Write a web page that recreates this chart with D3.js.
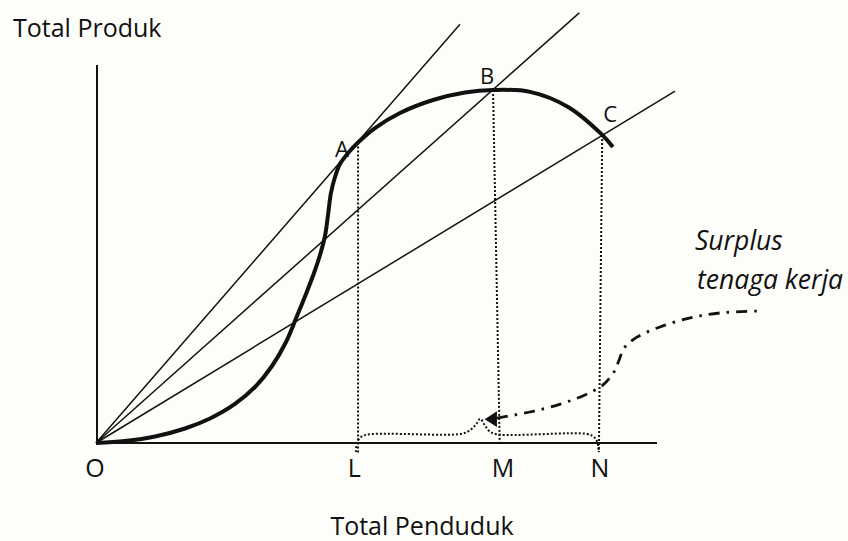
<!DOCTYPE html>
<html>
<head>
<meta charset="utf-8">
<script src="https://cdn.jsdelivr.net/npm/d3@7/dist/d3.min.js"></script>
<style>
  html, body { margin: 0; padding: 0; background: #fdfdf9; }
  svg { display: block; }
  text { font-family: "Open Sans", "Noto Sans", sans-serif; fill: #111; }
</style>
</head>
<body>
<svg id="chart" width="848" height="541"></svg>
<script>
// ---------- data (economic units: x = total penduduk, y = total produk) ----------
const curveX = [0, 5.18, 10.54, 15.89, 20.36, 24.82, 28.39, 31.43, 33.93, 35.89, 37.5, 38.93, 40.0, 40.89, 41.43, 41.96, 42.68, 43.57, 45.18, 46.79, 49.82, 54.29, 60.18, 65.89, 70.89, 77.5, 84.3, 90.4, 92.3];
const curveY = [0, 0.53, 1.72, 3.84, 6.48, 10.32, 14.81, 20.37, 26.72, 33.6, 39.42, 44.97, 49.74, 54.76, 60.32, 66.14, 70.37, 73.81, 76.98, 79.5, 83.33, 87.3, 90.74, 92.72, 93.39, 92.9, 88.9, 81.5, 78.3];

// rays from the origin (end points)
const rayEndX = [65.0, 86.3, 103.4];
const rayEndY = [110.8, 113.8, 93.1];

// points A, B, C on the curve
const pointNames = ["A", "B", "C"];
const pointX = [46.8, 70.9, 90.4];
const pointY = [79.5, 93.4, 81.5];
// foot of the dotted verticals
const footX = [46.8, 72.1, 89.8];
const footY = [-2.6, -0.5, -2.4];

// axis tick labels
const tickLabels = ["O", "L", "M", "N"];
const tickX = [-0.2, 46.1, 72.7, 90.0];

// dotted brace under L..N
const braceX = [46.4, 46.6, 47.3, 48.8, 65.2, 66.6, 67.8, 68.6, 69.4, 70.2, 71.6, 87.7, 88.9, 89.5, 89.8];
const braceY = [-2.4, 0, 1.6, 2.3, 2.4, 3.2, 4.8, 6.4, 4.8, 3.2, 2.3, 2.4, 1.6, 0.3, -2.4];

// dash-dot arrow line (from arrow head to the label)
const arrowX = [71.6, 77.5, 82.9, 87.3, 90.5, 92.5, 93.4, 94.3, 96.6, 100.7, 106.1, 111.4, 118.0];
const arrowY = [6.6, 8.2, 10.3, 12.7, 15.3, 18.8, 21.9, 25.1, 28.0, 30.7, 33.1, 34.4, 34.9];
const arrowHeadX = [69.4, 71.6, 71.6];
const arrowHeadY = [6.3, 8.4, 4.2];

const yTitle = "Total Produk";
const xTitle = "Total Penduduk";
const noteLines = ["Surplus", "tenaga kerja"];

// ---------- drawing ----------
const svg = d3.select("#chart");
const x = d3.scaleLinear().domain([0, 100]).range([96, 656]);
const y = d3.scaleLinear().domain([0, 100]).range([443, 65]);

// axes
svg.append("line").attr("x1", x(0) + 1).attr("x2", x(0) + 1).attr("y1", y(0)).attr("y2", y(100))
  .attr("stroke", "#111").attr("stroke-width", 2);
svg.append("line").attr("x1", x(0)).attr("x2", x(100) + 1).attr("y1", y(0)).attr("y2", y(0))
  .attr("stroke", "#111").attr("stroke-width", 2);

// rays
rayEndX.forEach((ex, i) => {
  svg.append("line")
    .attr("x1", x(0)).attr("y1", y(0))
    .attr("x2", x(ex)).attr("y2", y(rayEndY[i]))
    .attr("stroke", "#111").attr("stroke-width", 1.5);
});

// dotted verticals
pointX.forEach((px, i) => {
  svg.append("line")
    .attr("x1", x(px)).attr("y1", y(pointY[i]))
    .attr("x2", x(footX[i])).attr("y2", y(footY[i]))
    .attr("stroke", "#111").attr("stroke-width", 2)
    .attr("stroke-dasharray", "2,2");
});

// total product curve
const curvePts = curveX.map((v, i) => [v, curveY[i]]);
svg.append("path")
  .attr("d", d3.line().x(d => x(d[0])).y(d => y(d[1])).curve(d3.curveCatmullRom.alpha(0.5))(curvePts))
  .attr("fill", "none").attr("stroke", "#111").attr("stroke-width", 4).attr("stroke-linecap", "butt");

// brace
const bracePts = braceX.map((v, i) => [v, braceY[i]]);
svg.append("path")
  .attr("d", d3.line().x(d => x(d[0])).y(d => y(d[1])).curve(d3.curveCatmullRom.alpha(0.5))(bracePts))
  .attr("fill", "none").attr("stroke", "#111").attr("stroke-width", 2)
  .attr("stroke-dasharray", "2,2");

// dash-dot arrow
const arrowPts = arrowX.map((v, i) => [v, arrowY[i]]);
svg.append("path")
  .attr("d", d3.line().x(d => x(d[0])).y(d => y(d[1])).curve(d3.curveCatmullRom.alpha(0.5))(arrowPts))
  .attr("fill", "none").attr("stroke", "#111").attr("stroke-width", 2.8)
  .attr("stroke-dasharray", "11,7,2.5,7");
svg.append("path")
  .attr("d", d3.line().x((d, i) => x(arrowHeadX[i])).y((d, i) => y(arrowHeadY[i]))(arrowHeadX) + "Z")
  .attr("fill", "#111");

// point labels
const ptOffset = [[-16, 15], [-6, -6], [8, -13]];
pointNames.forEach((n, i) => {
  svg.append("text")
    .attr("x", x(pointX[i]) + ptOffset[i][0]).attr("y", y(pointY[i]) + ptOffset[i][1])
    .attr("text-anchor", "middle").style("font-size", "22px").text(n);
});

// tick labels
tickLabels.forEach((t, i) => {
  svg.append("text")
    .attr("x", x(tickX[i])).attr("y", 477)
    .attr("text-anchor", "middle").style("font-size", "25px").text(t);
});

// titles
svg.append("text").attr("x", 13).attr("y", 37).style("font-size", "25px").text(yTitle);
svg.append("text").attr("x", 422).attr("y", 535).attr("text-anchor", "middle").style("font-size", "25px").text(xTitle);

// note
noteLines.forEach((t, i) => {
  svg.append("text").attr("x", 695 + i * 2).attr("y", 250 + i * 39)
    .style("font-size", "26.5px").style("font-style", "italic").text(t);
});
</script>
</body>
</html>
